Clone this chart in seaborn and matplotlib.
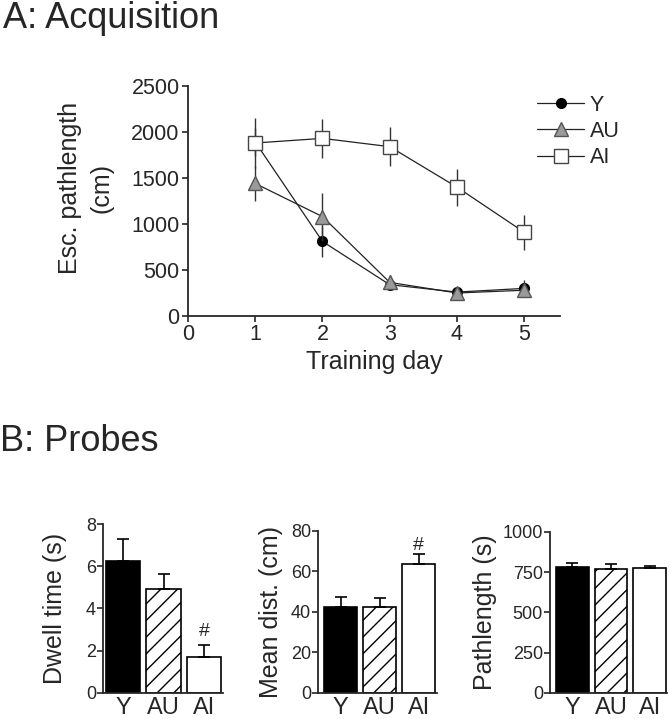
import matplotlib
matplotlib.use("Agg")
import matplotlib.pyplot as plt
import seaborn as sns
import numpy as np

# Acquisition data
days = [1, 2, 3, 4, 5]
y_mean = [1890, 810, 340, 260, 300]
y_sem = [150, 170, 60, 30, 95]
au_mean = [1440, 1080, 365, 250, 280]
au_sem = [195, 260, 85, 30, 50]
ai_mean = [1880, 1930, 1840, 1400, 910]
ai_sem = [270, 210, 210, 200, 190]

# Probe data
groups = ["Y", "AU", "AI"]
dwell_mean = [6.27, 4.93, 1.72]
dwell_sem = [1.02, 0.71, 0.53]
dist_mean = [42.6, 42.6, 63.6]
dist_sem = [4.8, 4.3, 4.8]
path_mean = [783, 770, 777]
path_sem = [22, 31, 14]

sns.set_style("ticks")
plt.rcParams["font.family"] = ["Liberation Sans", "DejaVu Sans"]
plt.rcParams["hatch.linewidth"] = 1.0
plt.rcParams["axes.linewidth"] = 1.3

fig = plt.figure(figsize=(6.7, 7.19), dpi=100)

# ---- A: Acquisition ----
ax = fig.add_axes([0.2806, 0.5605, 0.555, 0.320])
series = [
    ("Y", y_mean, y_sem, dict(marker="o", mfc="black", mec="black", ms=7)),
    ("AU", au_mean, au_sem, dict(marker="^", mfc="#9a9a9a", mec="#555555", ms=10)),
    ("AI", ai_mean, ai_sem, dict(marker="s", mfc="white", mec="#444444", ms=10)),
]
for i, (name, m, s, st) in enumerate(series):
    ax.errorbar(days, m, yerr=s, fmt="none", ecolor="#333333", elinewidth=1.0, zorder=2 + i)
    sns.lineplot(x=days, y=m, color="#222222", lw=0.9, label=name, ax=ax, zorder=3 + i,
                 mew=1.0, **st)

ax.set_xlim(0, 5.53)
ax.set_ylim(0, 2500)
ax.set_xticks([0, 1, 2, 3, 4, 5])
ax.set_yticks([0, 500, 1000, 1500, 2000, 2500])
ax.tick_params(labelsize=15.5, length=4, width=1.2, pad=2)
ax.set_xlabel("Training day", fontsize=18, labelpad=3)
ax.set_ylabel("Esc. pathlength\n(cm)", fontsize=18, linespacing=1.4)
ax.yaxis.set_label_coords(-0.2, 0.555)
sns.despine(ax=ax)
ax.legend(loc="upper left", bbox_to_anchor=(0.915, 1.0), frameon=False, fontsize=15.5,
          handlelength=2.2, handletextpad=0.25, labelspacing=0.25, borderaxespad=0)

fig.text(0.005, 0.961, "A: Acquisition", fontsize=26, va="baseline", ha="left")
fig.text(0.0, 0.373, "B: Probes", fontsize=26, va="baseline", ha="left")

# ---- B: Probes ----
panels = [
    ([0.1537, 0.0362, 0.179, 0.235], dwell_mean, dwell_sem, "Dwell time (s)",
     (0, 8), [0, 2, 4, 6, 8], (-0.5, 2.47), -0.30, 2.9),
    ([0.4746, 0.0362, 0.1776, 0.2253], dist_mean, dist_sem, "Mean dist. (cm)",
     (0, 80), [0, 20, 40, 60, 80], (-0.58, 2.47), -0.29, 73),
    ([0.8209, 0.0362, 0.1746, 0.224], path_mean, path_sem, "Pathlength (s)",
     (0, 1000), [0, 250, 500, 750, 1000], (-0.58, 2.45), -0.45, None),
]
for pos, m, s, lab, ylim, yt, xl, lx, hash_y in panels:
    bx = fig.add_axes(pos)
    sns.barplot(x=groups, y=m, hue=groups, palette=["black", "white", "white"],
                edgecolor="black", linewidth=1.2, width=0.85, legend=False,
                errorbar=None, ax=bx)
    bx.patches[1].set_hatch("//")
    bx.errorbar([0, 1, 2], m, yerr=[np.zeros(3), s], fmt="none", ecolor="black",
                elinewidth=1.2, capsize=4.5, capthick=1.2, zorder=5)
    bx.set_ylim(*ylim)
    bx.set_yticks(yt)
    bx.set_xlim(*xl)
    bx.tick_params(axis="y", labelsize=13, length=4, width=1.2, pad=1)
    bx.tick_params(axis="x", labelsize=17, length=0, pad=3)
    bx.set_ylabel(lab, fontsize=18)
    bx.yaxis.set_label_coords(lx, 0.5)
    if hash_y is not None:
        bx.text(2, hash_y, "#", ha="center", va="center", fontsize=14)
    sns.despine(ax=bx)

fig.savefig("out.png", dpi=100)
